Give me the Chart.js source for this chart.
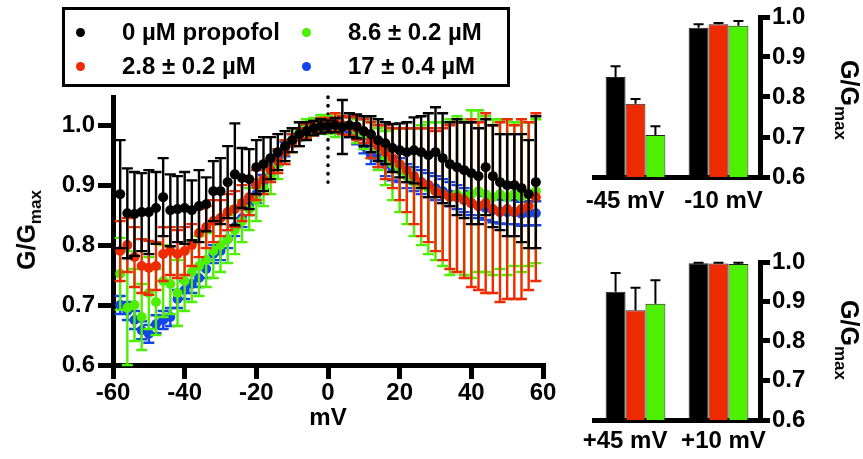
<!DOCTYPE html>
<html>
<head>
<meta charset="utf-8">
<script src="https://cdn.jsdelivr.net/npm/chart.js@4.4.0/dist/chart.umd.min.js"></script>
<style>
  html,body{margin:0;padding:0;background:#fff;}
  body{width:863px;height:459px;position:relative;overflow:hidden;font-family:"Liberation Sans",Arial,sans-serif;font-weight:bold;color:#000;}
  canvas{position:absolute;}
  .legend{position:absolute;left:62px;top:7px;width:442px;height:74px;border:3px solid #000;}
  .item{position:absolute;font-size:24px;white-space:nowrap;line-height:26px;}
  .dot{position:absolute;width:9px;height:9px;border-radius:50%;}
  .ytitle{position:absolute;font-size:25px;white-space:nowrap;transform-origin:center center;}
  .ytitle sub{font-size:17px;vertical-align:-6px;}
</style>
</head>
<body>
<canvas id="main" width="560" height="459" style="left:0;top:0"></canvas>
<canvas id="barTop" width="303" height="230" style="left:560px;top:0"></canvas>
<canvas id="barBot" width="303" height="229" style="left:560px;top:230px"></canvas>
<div class="legend" id="legend"></div>
<div class="ytitle" id="tMain"></div>
<div class="ytitle" id="tTop"></div>
<div class="ytitle" id="tBot"></div>
<script>
// ---------- DATA ----------
const seriesNames = ['0 \u00b5M propofol', '2.8 \u00b1 0.2 \u00b5M', '8.6 \u00b1 0.2 \u00b5M', '17 \u00b1 0.4 \u00b5M'];
const seriesColors = ['#000000', '#EE2A00', '#4CF000', '#1444EE'];

const mV = [-58,-56,-54,-52,-50,-48,-46,-44,-42,-40,-38,-36,-34,-32,-30,-28,-26,-24,-22,-20,-18,-16,-14,-12,-10,-8,-6,-4,-2,0,2,4,6,8,10,12,14,16,18,20,22,24,26,28,30,32,34,36,38,40,42,44,46,48,50,52,54,56,58];

const g0 = [0.885,0.853,0.852,0.855,0.855,0.862,0.880,0.858,0.860,0.862,0.858,0.865,0.868,0.890,0.890,0.905,0.918,0.912,0.910,0.930,0.935,0.945,0.955,0.965,0.975,0.985,0.990,0.995,0.998,0.998,1.000,0.997,1.000,0.998,0.990,0.985,0.975,0.970,0.962,0.958,0.955,0.958,0.955,0.950,0.955,0.945,0.935,0.930,0.925,0.920,0.915,0.930,0.915,0.905,0.900,0.900,0.895,0.885,0.905];
const e0 = [0.090,0.075,0.070,0.065,0.070,0.060,0.065,0.060,0.055,0.060,0.050,0.060,0.045,0.050,0.055,0.060,0.085,0.050,0.050,0.045,0.045,0.035,0.030,0.025,0.020,0.020,0.015,0.012,0.012,0.010,0.012,0.045,0.020,0.020,0.025,0.030,0.035,0.035,0.040,0.045,0.050,0.055,0.060,0.070,0.075,0.075,0.070,0.080,0.080,0.085,0.080,0.080,0.085,0.080,0.085,0.085,0.090,0.090,0.110];

const g28 = [0.790,0.800,0.780,0.765,0.762,0.765,0.785,0.790,0.785,0.790,0.800,0.820,0.830,0.840,0.845,0.855,0.860,0.870,0.880,0.900,0.910,0.925,0.940,0.955,0.970,0.980,0.990,0.995,1.000,1.000,1.005,1.000,0.998,0.995,0.990,0.975,0.965,0.955,0.945,0.935,0.925,0.915,0.905,0.900,0.890,0.885,0.880,0.880,0.875,0.870,0.865,0.870,0.860,0.855,0.860,0.855,0.860,0.865,0.880];
const e28 = [0.050,0.045,0.050,0.045,0.045,0.040,0.045,0.040,0.040,0.040,0.035,0.040,0.035,0.035,0.030,0.030,0.030,0.030,0.030,0.025,0.025,0.020,0.020,0.020,0.015,0.015,0.012,0.012,0.012,0.012,0.015,0.015,0.015,0.020,0.020,0.030,0.035,0.045,0.050,0.060,0.070,0.080,0.090,0.095,0.100,0.110,0.120,0.125,0.130,0.140,0.140,0.150,0.140,0.150,0.150,0.145,0.150,0.140,0.140];

const g86 = [0.752,0.695,0.700,0.680,0.720,0.705,0.740,0.735,0.720,0.740,0.755,0.765,0.775,0.790,0.800,0.810,0.825,0.840,0.860,0.875,0.895,0.915,0.935,0.955,0.975,0.990,0.995,1.000,1.005,1.000,1.000,1.000,0.998,0.990,0.985,0.975,0.960,0.945,0.935,0.925,0.915,0.905,0.900,0.895,0.890,0.885,0.880,0.885,0.880,0.885,0.890,0.885,0.880,0.885,0.880,0.885,0.880,0.885,0.890];
const e86 = [0.060,0.095,0.060,0.055,0.060,0.055,0.060,0.050,0.055,0.050,0.050,0.050,0.045,0.045,0.045,0.040,0.040,0.035,0.035,0.035,0.030,0.030,0.025,0.020,0.020,0.015,0.015,0.012,0.012,0.015,0.020,0.015,0.015,0.020,0.025,0.030,0.035,0.045,0.060,0.070,0.080,0.090,0.100,0.110,0.115,0.120,0.130,0.130,0.130,0.140,0.135,0.130,0.130,0.125,0.130,0.120,0.125,0.120,0.120];

const g17 = [0.700,0.690,0.675,0.658,0.652,0.668,0.675,0.680,0.710,0.725,0.735,0.745,0.760,0.785,0.790,0.810,0.830,0.845,0.865,0.885,0.905,0.930,0.945,0.960,0.975,0.985,0.990,0.995,1.000,1.000,1.000,0.995,0.990,0.980,0.965,0.950,0.945,0.935,0.928,0.925,0.915,0.910,0.905,0.900,0.895,0.890,0.885,0.880,0.875,0.870,0.865,0.862,0.858,0.856,0.855,0.855,0.852,0.853,0.853];
const e17 = [0.015,0.015,0.015,0.015,0.015,0.015,0.015,0.015,0.015,0.015,0.015,0.015,0.015,0.015,0.015,0.015,0.015,0.015,0.015,0.015,0.012,0.012,0.012,0.012,0.010,0.010,0.010,0.010,0.010,0.010,0.010,0.010,0.010,0.012,0.012,0.015,0.015,0.020,0.020,0.020,0.020,0.020,0.020,0.020,0.020,0.020,0.020,0.020,0.020,0.020,0.020,0.020,0.020,0.020,0.020,0.020,0.020,0.020,0.020];

// dotted marker at 0 mV
const markerX = [0, 0];
const markerY = [1.047, 0.905];

// axis ticks
const xTickStep = 20;
const yTickStep = 0.1;

// bar panels
const barCatsTop = ['-45 mV', '-10 mV'];
const barTop0 = [0.850, 0.973];
const barTopErr0 = [0.027, 0.009];
const barTop28 = [0.783, 0.982];
const barTopErr28 = [0.012, 0.003];
const barTop86 = [0.705, 0.978];
const barTopErr86 = [0.022, 0.012];

const barCatsBot = ['+45 mV', '+10 mV'];
const barBot0 = [0.925, 0.997];
const barBotErr0 = [0.047, 0.001];
const barBot28 = [0.878, 0.996];
const barBotErr28 = [0.057, 0.002];
const barBot86 = [0.894, 0.995];
const barBotErr86 = [0.060, 0.003];

// ---------- RENDER ----------
Chart.defaults.font.family = '"Liberation Sans", Arial, sans-serif';
Chart.defaults.font.weight = 'bold';
Chart.defaults.color = '#000';

// legend (HTML)
(function(){
  const lg = document.getElementById('legend');
  const pos = [[0,0],[0,1],[1,0],[1,1]]; // [col,row]
  [0,1,2,3].forEach(i => {
    const [c, r] = pos[i];
    const dot = document.createElement('div');
    dot.className = 'dot';
    dot.style.background = seriesColors[i];
    dot.style.left = (c ? 237 : 11) + 'px';
    dot.style.top = (r ? 52 : 18) + 'px';
    lg.appendChild(dot);
    const t = document.createElement('div');
    t.className = 'item';
    t.textContent = seriesNames[i];
    t.style.left = (c ? 283 : 57) + 'px';
    t.style.top = (r ? 43 : 9) + 'px';
    lg.appendChild(t);
  });
})();

function placeTitle(id, cx, cy, deg) {
  const el = document.getElementById(id);
  el.innerHTML = 'G/G<sub>max</sub>';
  const w = el.offsetWidth, h = el.offsetHeight;
  el.style.left = (cx - w / 2) + 'px';
  el.style.top = (cy - h / 2) + 'px';
  el.style.transform = 'rotate(' + deg + 'deg)';
}
placeTitle('tMain', 29, 230, -90);
placeTitle('tTop', 847, 100, 90);
placeTitle('tBot', 847, 340, 90);

const errPlugin = {
  id: 'errbars',
  beforeDatasetDraw(chart, args) {
    const ds = chart.data.datasets[args.index];
    if (!ds.errors || ds.oneSided) return;
    drawErr(chart, args.meta, ds);
  },
  afterDatasetDraw(chart, args) {
    const ds = chart.data.datasets[args.index];
    if (!ds.errors || !ds.oneSided) return;
    drawErr(chart, args.meta, ds);
  }
};
function drawErr(chart, meta, ds) {
  const ctx = chart.ctx, ys = chart.scales.y;
  ctx.save();
  ctx.strokeStyle = ds.errColor;
  ctx.lineWidth = ds.errWidth || 2;
  const cw = ds.capHalf || 5;
  meta.data.forEach((el, i) => {
    const raw = ds.data[i];
    const v = (typeof raw === 'object') ? raw.y : raw;
    const e = ds.errors[i];
    const x = el.x;
    const yt = ys.getPixelForValue(v + e);
    const yb = ds.oneSided ? el.y : ys.getPixelForValue(v - e);
    ctx.beginPath();
    ctx.moveTo(x, yt); ctx.lineTo(x, yb);
    ctx.moveTo(x - cw, yt); ctx.lineTo(x + cw, yt);
    if (!ds.oneSided) { ctx.moveTo(x - cw, yb); ctx.lineTo(x + cw, yb); }
    ctx.stroke();
  });
  ctx.restore();
}

function pts(ys) { return mV.map((x, i) => ({x: x, y: ys[i]})); }
function sc(i, ys, es, ord) {
  return {
    label: seriesNames[i], data: pts(ys), errors: es,
    backgroundColor: seriesColors[i], borderColor: seriesColors[i], errColor: seriesColors[i],
    errWidth: 2.4, capHalf: 5.5,
    pointRadius: 5, pointBorderWidth: 0, showLine: false, order: ord, clip: false
  };
}

new Chart(document.getElementById('main'), {
  type: 'scatter',
  data: {
    datasets: [
      sc(0, g0, e0, 1),
      sc(1, g28, e28, 2),
      sc(2, g86, e86, 3),
      sc(3, g17, e17, 4),
      {
        label: 'marker', data: markerX.map((x, i) => ({x: x, y: markerY[i]})),
        showLine: true, borderColor: '#000', borderWidth: 3.5, borderDash: [0.5, 8],
        borderCapStyle: 'round', pointRadius: 0, order: 10, clip: false
      }
    ]
  },
  options: {
    responsive: false, animation: false, devicePixelRatio: 1,
    layout: {padding: {left: 0, right: 17, top: 97, bottom: 0}},
    plugins: {legend: {display: false}, tooltip: {enabled: false}},
    scales: {
      x: {
        type: 'linear', min: -60, max: 60,
        ticks: {stepSize: xTickStep, font: {size: 24, weight: 'bold'}, color: '#000', padding: 0, maxRotation: 0, includeBounds: false},
        grid: {drawOnChartArea: false, color: '#000', lineWidth: 5, tickLength: 14},
        border: {color: '#000', width: 5},
        title: {display: true, text: 'mV', font: {size: 24, weight: 'bold'}, color: '#000', padding: {top: 0, bottom: 26}},
        afterFit(s) { s.height = 94; }
      },
      y: {
        min: 0.6, max: 1.047,
        ticks: {stepSize: yTickStep, includeBounds: false, font: {size: 24, weight: 'bold'}, color: '#000', padding: 3,
                callback: v => Number(v).toFixed(1)},
        grid: {drawOnChartArea: false, color: '#000', lineWidth: 5, tickLength: 15},
        border: {color: '#000', width: 5},
        afterFit(s) { s.width = 113; }
      }
    }
  },
  plugins: [errPlugin]
});

function barDs(i, vals, errs) {
  return {
    label: seriesNames[i], data: vals, errors: errs, oneSided: true, errColor: '#000', errWidth: 2, capHalf: 5,
    backgroundColor: seriesColors[i], borderColor: '#222', borderWidth: 1,
    barPercentage: 1.0, categoryPercentage: 0.72, xAxisID: 'x', yAxisID: 'y'
  };
}
// fractional positions of the category labels under each bar panel
const labelFrac = [0.187, 0.78];
function barChart(id, cats, sets, padTop, xh, labPad) {
  return new Chart(document.getElementById(id), {
    type: 'bar',
    data: {labels: cats, datasets: sets},
    options: {
      responsive: false, animation: false, devicePixelRatio: 1,
      layout: {padding: {left: 34, right: 0, top: padTop, bottom: 0}},
      plugins: {legend: {display: false}, tooltip: {enabled: false}},
      scales: {
        x: {
          ticks: {display: false},
          grid: {display: false, drawTicks: false},
          border: {display: true, color: '#000', width: 5},
          afterFit(s) { s.height = 0; }
        },
        xl: {
          type: 'linear', position: 'bottom', min: 0, max: 1, offset: false,
          grid: {display: false, drawTicks: false, offset: false},
          afterBuildTicks(s) { s.ticks = labelFrac.map(v => ({value: v})); },
          ticks: {font: {size: 24, weight: 'bold'}, color: '#000', padding: labPad, maxRotation: 0, autoSkip: false,
                  callback: (v, i) => cats[i]},
          border: {display: false},
          afterFit(s) { s.height = xh; }
        },
        y: {
          position: 'right', min: 0.6, max: 1.0,
          ticks: {stepSize: yTickStep, includeBounds: false, font: {size: 24, weight: 'bold'}, color: '#000', padding: 2,
                  callback: v => Number(v).toFixed(1)},
          grid: {drawOnChartArea: false, color: '#000', lineWidth: 5, tickLength: 10},
          border: {color: '#000', width: 5},
          afterFit(s) { s.width = 103; }
        }
      }
    },
    plugins: [errPlugin]
  });
}

barChart('barTop', barCatsTop, [
  barDs(0, barTop0, barTopErr0),
  barDs(1, barTop28, barTopErr28),
  barDs(2, barTop86, barTopErr86)
], 17, 53, 10);

barChart('barBot', barCatsBot, [
  barDs(0, barBot0, barBotErr0),
  barDs(1, barBot28, barBotErr28),
  barDs(2, barBot86, barBotErr86)
], 32, 39, 7);
</script>
</body>
</html>
